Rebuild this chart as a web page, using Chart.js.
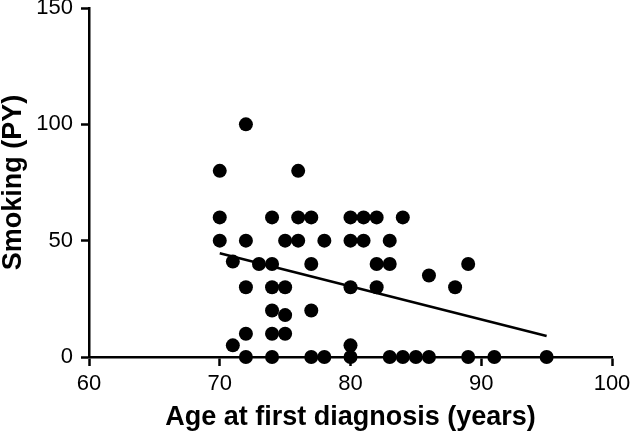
<!DOCTYPE html>
<html>
<head>
<meta charset="utf-8">
<script src="https://cdn.jsdelivr.net/npm/chart.js@4.4.1/dist/chart.umd.min.js"></script>
<style>
  html, body { margin: 0; padding: 0; background: #fff; }
</style>
</head>
<body>
<canvas id="mycanvas" width="631" height="436"></canvas>
<script>
// age at first diagnosis (years) and smoking (PY) for each patient
var ages = [72,
  70, 76,
  70, 74, 76, 77, 80, 81, 82, 84,
  70, 72, 75, 76, 78, 80, 81, 83,
  71, 73, 74, 77, 82, 83, 89,
  86,
  72, 74, 75, 80, 82, 88,
  74, 77, 75,
  72, 74, 75,
  71, 80,
  72, 74, 77, 78, 80, 83, 84, 85, 86, 89, 91, 95];
var smoking = [100,
  80, 80,
  60, 60, 60, 60, 60, 60, 60, 60,
  50, 50, 50, 50, 50, 50, 50, 50,
  41, 40, 40, 40, 40, 40, 40,
  35,
  30, 30, 30, 30, 30, 30,
  20, 20, 18,
  10, 10, 10,
  5, 5,
  0, 0, 0, 0, 0, 0, 0, 0, 0, 0, 0, 0];

// regression line end points
var fitX = [70, 95];
var fitY = [44.6, 9.0];

var xTicks = [60, 70, 80, 90, 100];
var yTicks = [0, 50, 100, 150];

var points = [];
for (var i in ages) {
  points.push({x: ages[i], y: smoking[i]});
}
var fitLine = [];
for (var j in fitX) {
  fitLine.push({x: fitX[j], y: fitY[j]});
}

var fontFamily = "'Liberation Sans', Arial, Helvetica, sans-serif";

var ctx = document.getElementById('mycanvas');
var chart = new Chart(ctx, {
  type: 'scatter',
  data: {
    datasets: [
      {
        label: 'Patients',
        data: points,
        backgroundColor: '#000',
        borderWidth: 0,
        pointRadius: 7,
        pointHoverRadius: 7,
        clip: false
      },
      {
        type: 'line',
        label: 'Fit',
        data: fitLine,
        borderColor: '#000',
        borderWidth: 2.5,
        pointRadius: 0,
        fill: false
      }
    ]
  },
  options: {
    responsive: false,
    animation: false,
    layout: { padding: { top: 8, right: 19, left: 0, bottom: 0 } },
    plugins: {
      legend: { display: false },
      tooltip: { enabled: false }
    },
    scales: {
      x: {
        type: 'linear',
        min: 60,
        max: 100,
        afterBuildTicks: function(scale) {
          scale.ticks = xTicks.map(function(v) { return {value: v}; });
        },
        afterFit: function(scale) {
          scale.height = 79;
          scale.paddingLeft = 0;
          scale.paddingRight = 0;
        },
        grid: {
          drawOnChartArea: false,
          drawTicks: true,
          tickLength: 9,
          tickColor: '#000',
          tickWidth: 2.5
        },
        border: { display: true, color: '#000', width: 2.5 },
        ticks: {
          color: '#000',
          padding: 5,
          maxRotation: 0,
          font: { family: fontFamily, size: 22 }
        },
        title: {
          display: true,
          text: 'Age at first diagnosis (years)',
          color: '#000',
          padding: { top: 0, bottom: 5 },
          font: { family: fontFamily, size: 27, weight: 'bold', lineHeight: 1 }
        }
      },
      y: {
        type: 'linear',
        min: 0,
        max: 150,
        afterBuildTicks: function(scale) {
          scale.ticks = yTicks.map(function(v) { return {value: v}; });
        },
        afterFit: function(scale) {
          scale.width = 89;
          scale.paddingTop = 0;
          scale.paddingBottom = 0;
        },
        grid: {
          drawOnChartArea: false,
          drawTicks: true,
          tickLength: 8,
          tickColor: '#000',
          tickWidth: 2.5
        },
        border: { display: true, color: '#000', width: 2.5 },
        ticks: {
          color: '#000',
          padding: 8,
          font: { family: fontFamily, size: 22 }
        },
        title: {
          display: true,
          text: 'Smoking (PY)',
          color: '#000',
          padding: 0,
          font: { family: fontFamily, size: 27, weight: 'bold', lineHeight: 1 }
        }
      }
    }
  }
});
</script>
</body>
</html>
